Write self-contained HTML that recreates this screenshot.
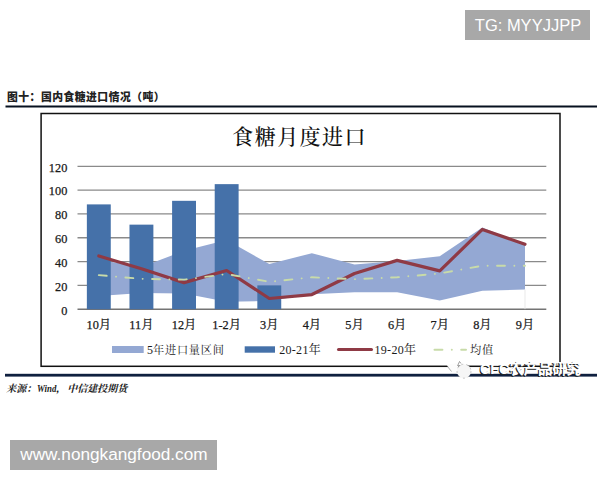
<!DOCTYPE html>
<html><head><meta charset="utf-8">
<style>
html,body{margin:0;padding:0;background:#fff;}
body{width:600px;height:480px;position:relative;overflow:hidden;}
svg{position:absolute;left:0;top:0;}
.ax{font-family:"Liberation Serif","Noto Serif CJK SC",serif;font-size:12.3px;fill:#1a1a1a;stroke:#1a1a1a;stroke-width:0.25px;}
.lg{font-family:"Liberation Serif","Noto Serif CJK SC",serif;font-size:12px;fill:#1a1a1a;}
.ttl{font-family:"Liberation Serif","Noto Serif CJK SC",serif;font-size:21px;letter-spacing:1.45px;font-weight:500;fill:#111;}
.cap{font-family:"Liberation Sans","Noto Sans CJK SC",sans-serif;font-size:10.8px;font-weight:900;letter-spacing:0.5px;fill:#222;}
.src{font-family:"Liberation Serif","Noto Serif CJK SC",serif;font-size:10px;font-weight:bold;font-style:italic;fill:#1a1a1a;}
.wm{font-family:"Liberation Sans","Noto Sans CJK SC",sans-serif;font-size:16.5px;fill:#fff;}
.wx{font-family:"Liberation Sans","Noto Sans CJK SC",sans-serif;font-size:14.3px;font-weight:700;fill:#fff;}
</style></head>
<body>
<svg width="600" height="480" viewBox="0 0 600 480">
<rect x="465" y="10" width="125" height="30" fill="#a8a8a8"/>
<text x="474.8" y="31" class="wm">TG: MYYJJPP</text>
<text x="7" y="100.5" class="cap">图十：国内食糖进口情况（吨）</text>
<rect x="5.5" y="105.5" width="591.5" height="2" fill="#06101f"/>
<rect x="41.1" y="113.5" width="518.9" height="252.8" fill="#fff" stroke="#111" stroke-width="1.5"/>
<text x="299.6" y="144.2" text-anchor="middle" class="ttl">食糖月度进口</text>
<line x1="77.5" y1="309.2" x2="546.3" y2="309.2" stroke="#747474" stroke-width="1.5"/>
<text x="67.3" y="314.5" text-anchor="end" class="ax">0</text>
<line x1="77.5" y1="285.38" x2="546.3" y2="285.38" stroke="#8a8a8a" stroke-width="1.3"/>
<text x="67.3" y="290.68" text-anchor="end" class="ax">20</text>
<line x1="77.5" y1="261.56" x2="546.3" y2="261.56" stroke="#8a8a8a" stroke-width="1.3"/>
<text x="67.3" y="266.86" text-anchor="end" class="ax">40</text>
<line x1="77.5" y1="237.74" x2="546.3" y2="237.74" stroke="#8a8a8a" stroke-width="1.3"/>
<text x="67.3" y="243.04" text-anchor="end" class="ax">60</text>
<line x1="77.5" y1="213.92" x2="546.3" y2="213.92" stroke="#8a8a8a" stroke-width="1.3"/>
<text x="67.3" y="219.22" text-anchor="end" class="ax">80</text>
<line x1="77.5" y1="190.1" x2="546.3" y2="190.1" stroke="#8a8a8a" stroke-width="1.3"/>
<text x="67.3" y="195.4" text-anchor="end" class="ax">100</text>
<line x1="77.5" y1="166.28" x2="546.3" y2="166.28" stroke="#8a8a8a" stroke-width="1.3"/>
<text x="67.3" y="171.58" text-anchor="end" class="ax">120</text>
<polygon points="98.81,259.77 141.43,266.92 184.05,250.84 226.66,240.12 269.28,263.94 311.9,253.22 354.52,264.42 397.14,260.96 439.75,256.2 482.37,227.62 524.99,244.89 524.99,289.55 482.37,290.86 439.75,300.62 397.14,292.17 354.52,292.17 311.9,294.31 269.28,300.86 226.66,301.82 184.05,293.48 141.43,292.88 98.81,296.1" fill="#94a8d3"/>
<line x1="524.99" y1="289.55" x2="524.99" y2="309.2" stroke="#e4e4e4" stroke-width="0.8"/>
<rect x="86.86" y="204.39" width="23.9" height="104.81" fill="#4571a9"/>
<rect x="129.48" y="224.64" width="23.9" height="84.56" fill="#4571a9"/>
<rect x="172.1" y="200.82" width="23.9" height="108.38" fill="#4571a9"/>
<rect x="214.71" y="184.14" width="23.9" height="125.06" fill="#4571a9"/>
<rect x="257.33" y="285.38" width="23.9" height="23.82" fill="#4571a9"/>
<polyline points="98.81,255.96 141.43,268.71 184.05,282.64 226.66,270.49 269.28,298.48 311.9,294.55 354.52,273.47 397.14,260.37 439.75,270.85 482.37,229.4 524.99,244.29" fill="none" stroke="#8f3a45" stroke-width="3.2" stroke-linejoin="round" stroke-linecap="round"/>
<polyline points="98.81,275.14 141.43,278.83 184.05,279.66 226.66,274.07 269.28,281.81 311.9,277.28 354.52,279.19 397.14,277.28 439.75,273.47 482.37,265.73 524.99,265.73" fill="none" stroke="#c8dba9" stroke-width="1.9" stroke-dasharray="7.9 9.4 0.01 9.4" stroke-linecap="round" stroke-linejoin="round"/>
<text x="98.81" y="329.3" text-anchor="middle" class="ax">10月</text>
<text x="141.43" y="329.3" text-anchor="middle" class="ax">11月</text>
<text x="184.05" y="329.3" text-anchor="middle" class="ax">12月</text>
<text x="226.66" y="329.3" text-anchor="middle" class="ax">1-2月</text>
<text x="269.28" y="329.3" text-anchor="middle" class="ax">3月</text>
<text x="311.9" y="329.3" text-anchor="middle" class="ax">4月</text>
<text x="354.52" y="329.3" text-anchor="middle" class="ax">5月</text>
<text x="397.14" y="329.3" text-anchor="middle" class="ax">6月</text>
<text x="439.75" y="329.3" text-anchor="middle" class="ax">7月</text>
<text x="482.37" y="329.3" text-anchor="middle" class="ax">8月</text>
<text x="524.99" y="329.3" text-anchor="middle" class="ax">9月</text>
<rect x="112" y="346" width="31.7" height="7" fill="#94a8d3"/>
<text x="147" y="354.3" class="lg">5<tspan style="font-size:11.2px;letter-spacing:0.75px">年进口量区间</tspan></text>
<rect x="244.7" y="346.3" width="30.3" height="6.4" fill="#4571a9"/>
<text x="279.2" y="354.3" class="lg" style="letter-spacing:0.3px">20-21年</text>
<line x1="338.5" y1="349.5" x2="371.5" y2="349.5" stroke="#8f3a45" stroke-width="3" stroke-linecap="round"/>
<text x="374.5" y="354.3" class="lg" style="letter-spacing:0.3px">19-20年</text>
<line x1="434.5" y1="349.7" x2="466" y2="349.7" stroke="#c8dba9" stroke-width="2" stroke-dasharray="7.9 9.4 0.01 9.4" stroke-linecap="round"/>
<text x="470" y="354.3" class="lg" style="font-size:11.2px;letter-spacing:0.75px">均值</text>
<rect x="5" y="373.8" width="592" height="2.8" fill="#0f203f"/>
<text x="6.3" y="392" class="src">来源：</text><text x="37" y="392" class="src" textLength="19.3" lengthAdjust="spacingAndGlyphs">Wind</text><text x="56" y="392" class="src">，</text><text x="67.3" y="392" class="src">中信建投期货</text>
<polygon points="446.8,365 458,362.5 459,374 452,372" fill="#fcfcfc"/>
<line x1="447.5" y1="366.5" x2="451.5" y2="371.5" stroke="#999" stroke-width="0.8"/>
<circle cx="464" cy="371.2" r="7" fill="#f6f6f6" stroke="#a0a0a0" stroke-width="0.6" stroke-dasharray="2 3"/>
<path d="M457.5,366 L459.5,361.5 L461,363.5" fill="none" stroke="#777" stroke-width="0.7"/>
<text x="479" y="374.5" class="wx" style="fill:#222">CFC农产品研究</text>
<text x="480" y="373.5" class="wx">CFC农产品研究</text>
<rect x="10" y="440" width="207" height="30" fill="#a8a8a8"/>
<text x="20.3" y="459.7" class="wm" style="font-size:17.2px">www.nongkangfood.com</text>
</svg>
</body></html>
